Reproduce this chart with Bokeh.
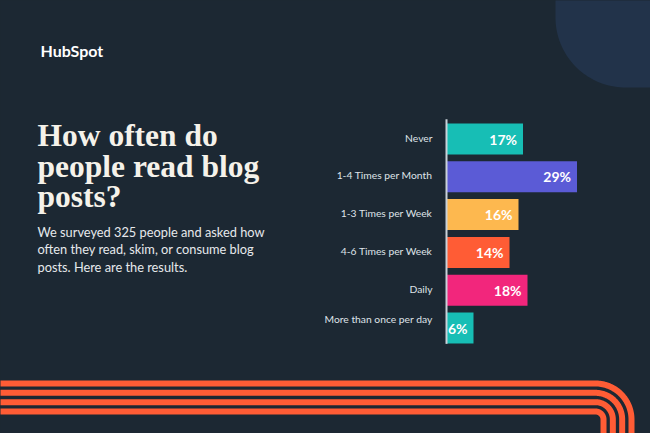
import numpy as np
from bokeh.plotting import figure
from bokeh.models import Range1d, ColumnDataSource
from bokeh.core.properties import value
from bokeh.embed import file_html
from bokeh.resources import INLINE

# ---------------- data ----------------
categories = ["Never", "1-4 Times per Month", "1-3 Times per Week",
              "4-6 Times per Week", "Daily", "More than once per day"]
percentages = [17, 29, 16, 14, 18, 6]
bar_colors = ["#17beb5", "#5b5bd6", "#fdb84f", "#ff5c35", "#f2267c", "#17beb5"]

title_lines = ["How often do", "people read blog", "posts?"]
subtitle_lines = ["We surveyed 325 people and asked how",
                  "often they read, skim, or consume blog",
                  "posts. Here are the results."]
brand = "HubSpot"

# ---------------- layout helpers ----------------
W, H = 650, 433
OFF = 0       # page offset of the canvas
BG = "#1c2833"
X0 = 446.0    # canvas px of the bar baseline
K = 4.5       # px per percentage point
Y0 = 138.5    # canvas px of first bar centre
P = 37.8      # px between bar centres


def dx(rx):
    return (rx - OFF - X0) / K


def dy(ry):
    return (ry - OFF - Y0) / P


p = figure(width=W, height=H, output_backend="svg", toolbar_location=None,
           x_range=Range1d(dx(OFF), dx(OFF + W)), y_range=Range1d(dy(OFF + H), dy(OFF)),
           x_axis_location=None, y_axis_location=None,
           min_border=0, background_fill_color=BG, border_fill_color=BG,
           outline_line_color=None)
p.grid.visible = False

# decorative rounded corner (top right)
t = np.linspace(0, np.pi / 2, 40)
cx, cy, r = 625, 17, 70
px = [555] + list(cx - r * np.cos(t)) + [700, 700]
py = [-30] + list(cy + r * np.sin(t)) + [cy + r, -30]
p.patch([dx(v) for v in px], [dy(v) for v in py], fill_color="#22334a", line_color=None)

# decorative stripes (bottom)
xs, ys = [], []
for k in range(4):
    rr = 36 - 9.33 * k
    sx = [-20, 595] + list(595 + rr * np.sin(t)) + [595 + rr]
    sy = [419 - rr, 419 - rr] + list(419 - rr * np.cos(t)) + [470]
    xs.append([dx(v) for v in sx])
    ys.append([dy(v) for v in sy])
p.multi_line(xs, ys, line_color="#ff5c35", line_width=6, line_cap="butt")

# brand
p.text(x=[dx(40)], y=[dy(50)], text=[brand], text_font=value("Lato"),
       text_font_style="bold", text_font_size="16px", text_color="#ffffff",
       text_baseline="alphabetic")

# title
p.text(x=[dx(37)] * 3, y=[dy(135), dy(165.5), dy(196)], text=title_lines,
       text_font=value("Liberation Serif"), text_font_style="bold",
       text_font_size="31.5px", text_color="#f5f2ea", text_baseline="alphabetic")

# subtitle
p.text(x=[dx(37)] * 3, y=[dy(231), dy(248.5), dy(266)], text=subtitle_lines,
       text_font=value("Lato"), text_font_size="12.8px", text_color="#e6e9ec",
       text_baseline="middle")

# bars
n = len(categories)
idx = list(range(n))
src = ColumnDataSource(dict(y=idx, v=percentages, c=bar_colors, cat=categories,
                            lab=[f"{v}%" for v in percentages],
                            yoff=[-1.5] * (n - 1) + [-9]))
p.hbar(y="y", left=0, right="v", height=0.82, fill_color="c", line_color=None, source=src)
p.segment(x0=[0], y0=[-0.52], x1=[0], y1=[n - 0.58], line_color="#c9d1d9", line_width=2)

p.text(x="v", y="y", text="lab", source=src, x_offset=-6, text_align="right",
       text_baseline="middle", text_font=value("Lato"), text_font_style="bold",
       text_font_size="14px", text_color="#ffffff")
p.text(x=0, y="y", text="cat", source=src, x_offset=-14, y_offset="yoff",
       text_align="right", text_baseline="middle", text_font=value("Lato"),
       text_font_size="10.3px", text_color="#dfe3e8")

html = file_html(p, INLINE)
html = html.replace("</head>", "<style>html,body{background-color:#1c2833;}</style></head>", 1)
open("out.html", "w").write(html)
